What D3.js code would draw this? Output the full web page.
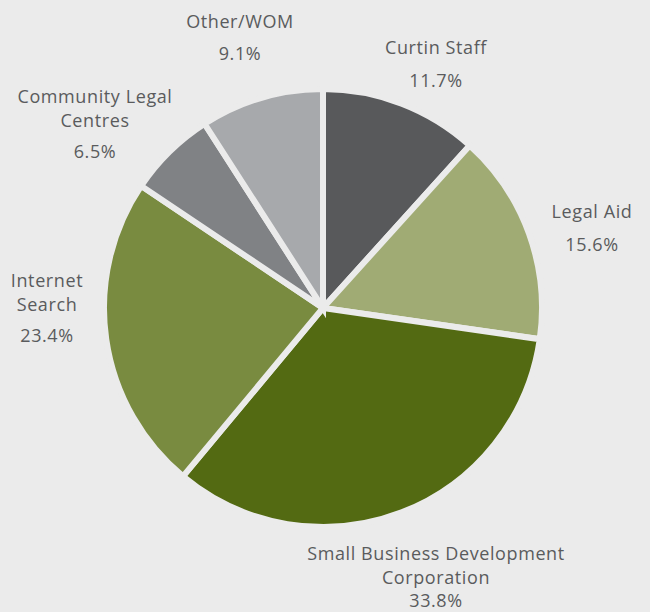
<!DOCTYPE html>
<html><head><meta charset="utf-8">
<script src="https://cdn.jsdelivr.net/npm/d3@7"></script>
<style>
html,body{margin:0;padding:0;background:#ebebeb;}
svg{display:block;}
text{font-family:"Open Sans","Noto Sans",sans-serif;font-weight:400;fill:#5a5b5d;letter-spacing:0.6px;}
</style></head>
<body>
<script>
const categories = ["Curtin Staff","Legal Aid","Small Business Development Corporation","Internet Search","Community Legal Centres","Other/WOM"];
const values = [11.7, 15.6, 33.8, 23.4, 6.5, 9.1];
const valueLabels = ["11.7%","15.6%","33.8%","23.4%","6.5%","9.1%"];
const colors = ["#58595b","#a0ab74","#536a12","#798b40","#808285","#a7a9ac"];

// label layout: wrapped name lines, anchor center, baselines
const labelLayout = [
  {lines:["Curtin Staff"], x:436, y:54, pctGap:33},
  {lines:["Legal Aid"], x:592, y:218, pctGap:33},
  {lines:["Small Business Development","Corporation"], x:436, y:560, pctGap:23},
  {lines:["Internet","Search"], x:47, y:287, pctGap:31},
  {lines:["Community Legal","Centres"], x:95, y:103, pctGap:31},
  {lines:["Other/WOM"], x:240, y:28, pctGap:32}
];

const W=650,H=612, cx=323, cy=308, R=216;
const svg=d3.select("body").append("svg").attr("width",W).attr("height",H);
svg.append("rect").attr("width",W).attr("height",H).attr("fill","#ebebeb");

const pie=d3.pie().sort(null).value(d=>d)(values);
const arc=d3.arc().innerRadius(0).outerRadius(R+3);
const g=svg.append("g").attr("transform",`translate(${cx},${cy})`);
g.selectAll("path").data(pie).join("path")
  .attr("d",arc).attr("fill",(d,i)=>colors[i])
  .attr("stroke","#ebebeb").attr("stroke-width",6).attr("stroke-linejoin","miter");

const lab=svg.append("g");
labelLayout.forEach((L,i)=>{
  const t=lab.append("text").attr("text-anchor","middle").attr("font-size",18);
  L.lines.forEach((ln,j)=>{
    t.append("tspan").attr("x",L.x).attr("y",L.y+j*23.5).text(ln);
  });
  t.append("tspan").attr("x",L.x).attr("y",L.y+(L.lines.length-1)*23.5+L.pctGap).text(valueLabels[i]);
});
</script>
</body></html>
